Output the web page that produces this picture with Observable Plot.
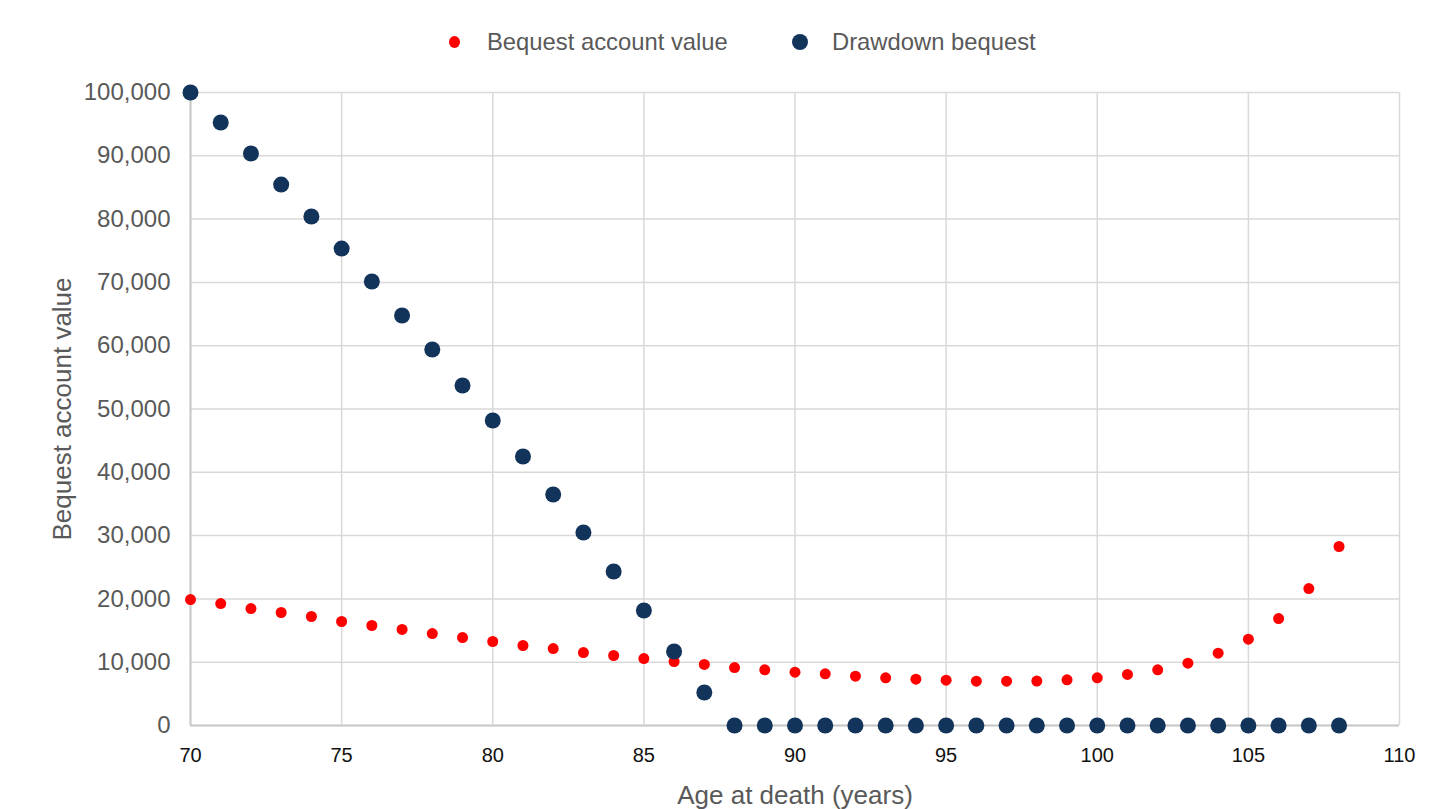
<!DOCTYPE html>
<html>
<head>
<meta charset="utf-8">
<script src="https://cdn.jsdelivr.net/npm/d3@7"></script>
<script src="https://cdn.jsdelivr.net/npm/@observablehq/plot@0.6"></script>
<style>
  body { margin: 0; background: #fff; font-family: "Liberation Sans", Arial, sans-serif; }
  #wrap { position: relative; width: 1443px; height: 809px; overflow: hidden; }
  #legend { position: relative; height: 70px; }
  .lg { position: absolute; top: 27px; font-size: 23.8px; color: #595959; line-height: 30px; white-space: nowrap; }
  .dot { position: absolute; border-radius: 50%; }
</style>
</head>
<body>
<div id="wrap">
  <div id="legend">
    <span class="dot" style="left:449px;top:36px;width:11px;height:12px;background:#ff0000"></span>
    <span class="lg" style="left:487px">Bequest account value</span>
    <span class="dot" style="left:792px;top:34px;width:16px;height:16px;background:#13345a"></span>
    <span class="lg" style="left:832px">Drawdown bequest</span>
  </div>
  <div id="chart"></div>
</div>
<script>
const ages = d3.range(70, 109);
const bequestAccount = [
  19900, 19270, 18480, 17850, 17220, 16430, 15800, 15170, 14530, 13900,
  13270, 12640, 12160, 11530, 11060, 10580, 10110, 9640, 9160, 8800,
  8420, 8170, 7790, 7530, 7320, 7160, 7000, 7000, 7020, 7210,
  7530, 8060, 8800, 9840, 11420, 13630, 16900, 21640, 28280
];
const drawdown = [
  100000, 95260, 90360, 85460, 80410, 75350, 70140, 64770, 59400, 53710,
  48180, 42500, 36490, 30490, 24330, 18170, 11690, 5210, 0, 0,
  0, 0, 0, 0, 0, 0, 0, 0, 0, 0,
  0, 0, 0, 0, 0, 0, 0, 0, 0
];
const xTicks = [70, 75, 80, 85, 90, 95, 100, 105, 110];
const yTicks = [0, 10000, 20000, 30000, 40000, 50000, 60000, 70000, 80000, 90000, 100000];

const redData = ages.map((a, i) => ({age: a, value: bequestAccount[i]}));
const navyData = ages.map((a, i) => ({age: a, value: drawdown[i]}));

const chart = Plot.plot({
  width: 1443,
  height: 739,
  marginTop: 22,
  marginBottom: 84,
  marginLeft: 190,
  marginRight: 44,
  style: {fontFamily: "'Liberation Sans', Arial, sans-serif", background: "white", overflow: "visible"},
  x: {domain: [70, 110]},
  y: {domain: [0, 100000]},
  marks: [
    Plot.gridX(xTicks, {stroke: "#d9d9d9", strokeOpacity: 1, strokeWidth: 1.5}),
    Plot.gridY(yTicks, {stroke: "#d9d9d9", strokeOpacity: 1, strokeWidth: 1.5}),
    Plot.ruleY([0], {stroke: "#c8c8c8", strokeWidth: 2}),
    Plot.ruleX([70], {stroke: "#c8c8c8", strokeWidth: 2}),
    Plot.axisX(xTicks, {tickSize: 0, tickPadding: 22, fontSize: 20, fill: "#111", label: null}),
    Plot.axisY(yTicks, {tickSize: 0, tickPadding: 20, fontSize: 24, fill: "#595959", tickFormat: d3.format(","), label: null}),
    Plot.text(["Age at death (years)"], {frameAnchor: "bottom", dy: 70, fontSize: 26, fill: "#595959", lineAnchor: "middle", textAnchor: "middle"}),
    Plot.text(["Bequest account value"], {frameAnchor: "left", dx: -128, rotate: -90, fontSize: 26, fill: "#595959", lineAnchor: "middle", textAnchor: "middle"}),
    Plot.dot(redData, {x: "age", y: "value", r: 5.5, fill: "#ff0000", stroke: "none"}),
    Plot.dot(navyData, {x: "age", y: "value", r: 8, fill: "#13345a", stroke: "none"})
  ]
});
document.getElementById("chart").appendChild(chart);
</script>
</body>
</html>
